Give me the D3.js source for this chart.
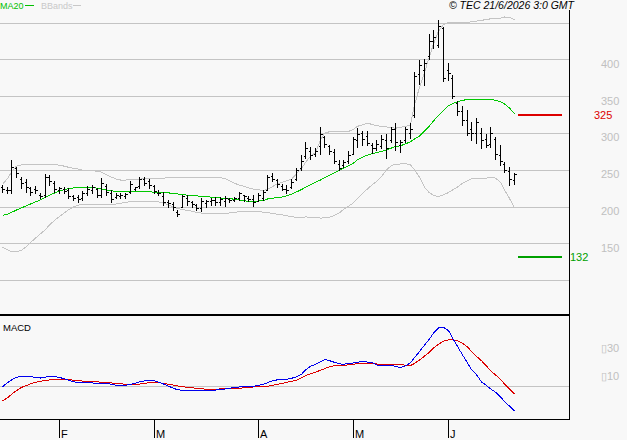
<!DOCTYPE html>
<html><head><meta charset="utf-8">
<script src="https://cdn.jsdelivr.net/npm/d3@7"></script>
<style>html,body{margin:0;padding:0;background:#f8f8f8;overflow:hidden}svg{display:block;font-family:"Liberation Sans",Arial,sans-serif}</style>
</head><body><svg id="c" width="627" height="440"></svg>
<script>
// ---- data ----
const open=[226,223,222,252,238,233,225,224,216,215,240,232,223,224,222,214,213,212,218,222,224,215,228,218,213,214,214,220,224,228,237,235,228,219,214,206,204,193,200,212,206,202,198,205,207,209,206,208,210,209,211,216,212,210,208,212,222,242,236,228,224,226,238,252,268,276,272,282,295,282,274,258,256,262,272,290,300,296,284,280,282,290,290,305,283,290,300,325,380,385,405,425,420,442,385,375,340,330,318,305,300,300,292,285,292,270,258,248,236];
const high=[229,227,263,254,240,238,227,228,218,244,243,234,227,227,225,216,216,221,228,229,225,239,231,222,218,218,219,234,227,240,240,238,229,222,220,209,206,195,216,216,207,204,211,209,211,213,213,214,212,213,220,216,214,216,218,222,243,245,238,231,229,238,252,270,288,281,279,308,296,284,278,263,263,275,295,306,302,302,286,290,297,298,308,313,290,308,313,383,399,401,435,440,454,444,395,379,344,336,331,315,320,306,299,308,295,283,261,254,246];
const low=[220,218,218,240,225,220,216,218,211,213,229,220,218,218,211,209,206,209,216,218,213,213,216,206,211,212,212,218,222,225,229,225,218,216,202,200,195,187,199,202,200,195,194,200,202,202,202,201,206,207,209,207,207,201,207,209,222,234,227,222,219,225,236,250,266,265,268,272,281,272,259,250,254,259,272,281,284,284,273,277,279,266,288,277,274,288,293,321,367,365,401,415,417,370,372,347,325,311,297,290,286,279,281,281,265,256,247,229,231];
const close=[224,222,254,246,232,226,220,222,214,240,235,224,225,221,214,212,210,218,224,226,216,232,220,210,216,215,217,230,226,238,232,229,221,218,206,205,199,190,214,208,203,198,208,208,209,206,210,212,209,212,218,214,210,206,215,220,240,238,230,224,222,233,250,262,280,270,276,298,285,276,262,253,260,270,292,298,292,286,280,285,292,280,305,288,288,305,305,378,392,395,425,430,445,375,381,350,330,318,300,300,315,290,283,300,272,262,250,238,244];
const ma20=[188,189.6,192,195.2,198.2,200.9,203.4,206.2,209,212.3,215.5,218.3,221.1,222.8,224.2,225.2,226,226.3,226.1,225.7,225,224,222.5,221.3,220.5,220,220,220,220,220,220,220,219.5,219.2,218.9,218.5,217.8,217,216.2,215.4,215,214.5,213.8,213.2,212.8,212.3,211.6,211,210.5,210,208.8,207.6,207.2,207.2,207.4,208,210.2,211.3,212,213,214.5,216.6,219.8,223,226.3,229.5,232.8,236,239.2,242.5,245.9,249.2,252.1,255.3,259,263.5,267,269.8,272,273.3,274.7,276.9,279.5,281.5,282.4,285.2,288,291.8,295.6,302.8,309.6,316.3,323.6,330.5,336.8,339.7,342.2,344.3,345.3,345.6,345.6,345.6,345.6,345.3,344.4,342.1,339.4,333.7,326];
const bbUpper=[230,238,247,255,256.5,257,257,257,257,257.3,257.5,257,256,254.8,253.3,252,250.8,249.5,248.8,248.4,248,246.8,243,239.8,237.3,236,236,236.5,237,237.3,237.6,238,238.3,238.5,238.7,238.8,239,239,239,239,239,239,239,239,239,239,239,238,235,231.6,229,227.4,225.5,223.5,222.6,222,223.4,227,231,233,234.8,237,244.6,251.4,259.9,268.5,273.3,290,299.8,301.6,301.7,301.7,301.8,302,305,309,311,313,311.5,309.8,309,308.2,307.2,306.4,307.7,308.8,311,338,362,382,404,421,438,447.5,450,450,450,450,450,451,452,453,454,455,455.5,456,457.5,457,453.5];
const bbLower=[145,141,139,138.8,140.5,145.5,151,157,163,168.7,175,181,186.5,191.5,195.5,199.5,202,203,203.4,203.3,203.2,203,203,203,203.5,204.5,205.6,206.5,207.2,207.4,207.2,206.8,206.5,206.3,204.8,202,199.5,197.5,195.8,194.6,193.5,192,191,190.6,190.4,190.3,190.3,190.5,191.2,192,193,193.6,193.8,193.8,193,192.3,191.7,190.8,189.5,188.5,187.5,186,185.5,185.5,185.8,185.5,184.8,184.3,184.5,185.3,188,191.5,196,200.5,205,211,217.5,224,230,234,240.5,250,255.5,257.5,257.8,258.2,256.5,250,240,226,218.5,215.5,213.3,216,219,222.5,226.5,231.5,235,237.5,238.2,238.2,238.7,240,238.5,233,222.4,211,198];
const macd=[-0.8,2.0,4.0,5.8,6.6,6.6,6.4,5.8,5.4,6.0,6.6,6.5,5.8,4.8,3.8,2.8,1.9,1.9,1.9,1.9,1.5,1.3,1.6,0.8,0.2,0.2,0.2,0.9,1.7,2.6,3.3,3.3,3.3,2.4,1.1,-0.5,-1.8,-3.1,-3.3,-3.4,-3.5,-3.6,-3.7,-3.8,-3.6,-3.2,-2.9,-2.4,-1.9,-1.5,-1.0,-0.8,-0.5,-0.5,0.1,0.9,2.0,3.4,4.1,4.3,4.5,5.2,6.2,8.0,11.2,13.8,15.2,16.9,18.6,17.8,16.6,15.5,15.2,15.7,16.2,16.7,17.2,16.8,16.2,14.7,14.4,14.4,14.4,13.7,12.9,14.1,16.3,19.9,24.3,28.9,33.3,37.4,41.2,41.6,39.3,34.1,28.0,21.9,16.2,11.4,7.8,2.6,0.0,-2.3,-4.7,-8.0,-11.4,-14.7,-18.0];
const signal=[-10.9,-8.7,-6.3,-3.6,-1.3,0.0,1.3,2.2,3.1,3.6,4.0,4.3,4.5,4.5,4.3,3.8,3.4,3.2,3.0,2.8,2.6,2.4,2.3,1.9,1.4,1.2,1.0,0.9,1.0,1.1,1.6,2.1,2.1,2.1,1.6,0.9,0.3,-0.3,-0.8,-1.2,-1.6,-2.0,-2.3,-2.6,-2.9,-2.6,-2.4,-2.3,-2.2,-2.1,-1.9,-1.6,-1.3,-1.0,-0.8,-0.6,-0.5,0.2,0.9,1.6,2.3,3.0,3.8,5.6,7.1,8.4,9.6,10.9,12.0,13.5,14.2,14.2,14.4,14.8,15.2,15.6,16.0,16.0,15.7,15.4,15.3,15.2,15.1,15.0,14.8,14.6,14.3,15.8,18.3,21.0,23.9,26.8,29.5,31.8,32.7,32.7,32.0,30.1,27.7,24.3,20.9,17.7,14.1,10.5,7.6,4.5,1.1,-2.5,-5.9];
const monthTickIndex=[12,32,54,74,94];
const monthTickLabels=["F","M","A","M","J"];
const priceGrid=[100,150,200,250,300,350,400,450];
const priceTickLabels=[150,200,250,300,350,400];
const macdTicks=[30,10];
const macdTickLabels=["\u25AF30","\u25AF10"];
const levelValues=[325,132];
const levelLabels=["325","132"];
const slots=120;

// ---- drawing ----
const W=627,H=440,R=569;
const svg=d3.select("#c");
svg.append("rect").attr("width",W).attr("height",H).attr("fill","#f8f8f8");
const x=d3.scaleBand().domain(d3.range(slots)).range([0,R]);
const cx=i=>Math.floor(x(i)+x.bandwidth()/2)+0.5;
const y=d3.scaleLinear().domain([52.6,467]).range([315,10]);
const ym=d3.scaleLinear().domain([-23.9,49.7]).range([419,316]);
const py=v=>Math.round(y(v))+0.5;
const gray="#c4c4c4";

// grid
svg.append("g").selectAll("line").data(priceGrid).join("line")
 .attr("x1",0).attr("x2",R).attr("y1",d=>py(d)).attr("y2",d=>py(d))
 .attr("stroke",gray).attr("shape-rendering","crispEdges");
svg.append("g").selectAll("text").data(priceTickLabels).join("text")
 .attr("x",601).attr("y",d=>y(d)+8.4).text(d=>d)
 .attr("fill","#c0c0c0").attr("font-size",11);

// bollinger bands
const idx=d3.range(close.length);
const lineOf=(arr,sc)=>d3.line().x(i=>cx(i)).y(i=>sc(arr[i]))(idx);
svg.append("path").attr("d",lineOf(bbUpper,y)).attr("fill","none").attr("stroke",gray).attr("shape-rendering","crispEdges");
svg.append("path").attr("d",lineOf(bbLower,y)).attr("fill","none").attr("stroke",gray).attr("shape-rendering","crispEdges");
svg.append("path").attr("d",lineOf(ma20,y)).attr("fill","none").attr("stroke","#00c800").attr("shape-rendering","crispEdges");

// OHLC bars
const bars=svg.append("g").attr("stroke","#000").attr("shape-rendering","crispEdges");
idx.forEach(i=>{
  const X=cx(i);
  bars.append("line").attr("x1",X).attr("x2",X).attr("y1",Math.round(y(high[i]))).attr("y2",Math.round(y(low[i]))+1);
  bars.append("line").attr("x1",X-2).attr("x2",X).attr("y1",py(open[i])).attr("y2",py(open[i]));
  bars.append("line").attr("x1",X).attr("x2",X+2.5).attr("y1",py(close[i])).attr("y2",py(close[i]));
});

// level lines
const levelColors=["#dd0000","#00a000"];
const levelLabelX=[594,570];
levelValues.forEach((v,k)=>{
  svg.append("rect").attr("x",518).attr("width",44).attr("y",Math.round(y(v))-1).attr("height",2).attr("fill",levelColors[k]);
  svg.append("text").attr("x",levelLabelX[k]).attr("y",y(v)+4.5).text(levelLabels[k]).attr("fill",levelColors[k]).attr("font-size",11);
});

// legend & copyright
svg.append("text").attr("x",0).attr("y",8.5).text("MA20").attr("fill","#00c000").attr("font-size",9);
svg.append("line").attr("x1",25).attr("x2",34).attr("y1",5.5).attr("y2",5.5).attr("stroke","#00c000").attr("shape-rendering","crispEdges");
svg.append("text").attr("x",41).attr("y",8.5).text("BBands").attr("fill","#c8c8c8").attr("font-size",9);
svg.append("line").attr("x1",73).attr("x2",81).attr("y1",5.5).attr("y2",5.5).attr("stroke","#c8c8c8").attr("shape-rendering","crispEdges");
svg.append("text").attr("x",574).attr("y",8.5).attr("text-anchor","end").attr("font-style","italic").attr("font-size",10.5).attr("fill","#000").text("\u00A9 TEC 21/6/2026 3:0 GMT");

// frame
svg.append("line").attr("x1",R+0.5).attr("x2",R+0.5).attr("y1",10).attr("y2",419).attr("stroke","#000").attr("shape-rendering","crispEdges");
svg.append("rect").attr("x",0).attr("y",314).attr("width",R+1).attr("height",2).attr("fill","#000");

// MACD panel
svg.append("line").attr("x1",0).attr("x2",R).attr("y1",Math.round(ym(0))+0.5).attr("y2",Math.round(ym(0))+0.5).attr("stroke",gray).attr("shape-rendering","crispEdges");
svg.append("path").attr("d",lineOf(signal,ym)).attr("fill","none").attr("stroke","#dd0000").attr("shape-rendering","crispEdges");
svg.append("path").attr("d",lineOf(macd,ym)).attr("fill","none").attr("stroke","#0000ee").attr("shape-rendering","crispEdges");
svg.append("text").attr("x",3).attr("y",330.5).text("MACD").attr("font-size",9.5).attr("fill","#000");
svg.append("g").selectAll("text").data(macdTicks).join("text")
 .attr("x",601).attr("y",d=>ym(d)+8).text((d,k)=>macdTickLabels[k]).attr("fill","#c0c0c0").attr("font-size",11);

// x axis
svg.append("line").attr("x1",0).attr("x2",R+1).attr("y1",419.5).attr("y2",419.5).attr("stroke","#000").attr("shape-rendering","crispEdges");
const tg=svg.append("g");
monthTickIndex.forEach((mi,k)=>{
  const X=cx(mi);
  tg.append("line").attr("x1",X).attr("x2",X).attr("y1",419).attr("y2",438).attr("stroke","#000").attr("shape-rendering","crispEdges");
  tg.append("text").attr("x",X+1.5).attr("y",438).text(monthTickLabels[k]).attr("font-size",11).attr("fill","#000");
});
</script></body></html>
